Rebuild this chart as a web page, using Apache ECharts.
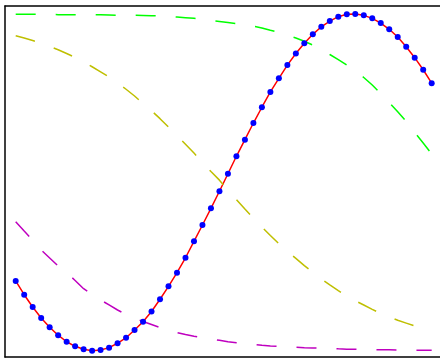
<!DOCTYPE html>
<html>
<head>
<meta charset="utf-8">
<script src="https://cdn.jsdelivr.net/npm/echarts@6/dist/echarts.min.js"></script>
<style>
  html, body { margin: 0; padding: 0; background: #fff; }
  #chart { width: 440px; height: 359px; }
</style>
</head>
<body>
<div id="chart"></div>
<script>
// sample index 0..49
const xIndex = Array.from({ length: 50 }, (_, i) => i)

// red line with blue markers
const redValues = [
  -0.589, -0.671, -0.744, -0.810, -0.865, -0.912, -0.951, -0.978, -0.996, -1.004,
  -1.000, -0.986, -0.960, -0.927, -0.881, -0.832, -0.771, -0.698, -0.621, -0.540,
  -0.451, -0.353, -0.256, -0.157, -0.055, 0.049, 0.153, 0.252, 0.351, 0.445,
  0.536, 0.617, 0.696, 0.765, 0.826, 0.879, 0.924, 0.958, 0.984, 0.998,
  1.000, 0.992, 0.974, 0.946, 0.909, 0.863, 0.805, 0.740, 0.668, 0.588
]

// green dashed
const greenValues = [
  0.998, 0.998, 0.998, 0.998, 0.997, 0.996, 0.996, 0.996, 0.995, 0.995,
  0.995, 0.994, 0.993, 0.993, 0.992, 0.991, 0.990, 0.988, 0.985, 0.982,
  0.978, 0.974, 0.968, 0.962, 0.956, 0.950, 0.943, 0.936, 0.927, 0.917,
  0.903, 0.890, 0.874, 0.857, 0.838, 0.815, 0.789, 0.759, 0.729, 0.696,
  0.661, 0.622, 0.577, 0.527, 0.473, 0.418, 0.360, 0.295, 0.232, 0.167
]

// olive dashed
const yellowValues = [
  0.871, 0.857, 0.842, 0.826, 0.807, 0.787, 0.765, 0.741, 0.714, 0.686,
  0.656, 0.625, 0.590, 0.552, 0.512, 0.467, 0.424, 0.377, 0.327, 0.276,
  0.225, 0.172, 0.118, 0.062, 0.011, -0.049, -0.105, -0.161, -0.216, -0.268,
  -0.318, -0.367, -0.413, -0.455, -0.498, -0.538, -0.577, -0.613, -0.647, -0.679,
  -0.707, -0.732, -0.758, -0.783, -0.802, -0.823, -0.840, -0.857, -0.872, -0.885
]

// magenta dashed
const magentaValues = [
  -0.236, -0.292, -0.346, -0.405, -0.452, -0.500, -0.540, -0.586, -0.635, -0.670,
  -0.702, -0.732, -0.762, -0.788, -0.810, -0.830, -0.848, -0.866, -0.883, -0.896,
  -0.908, -0.918, -0.927, -0.935, -0.942, -0.951, -0.957, -0.962, -0.966, -0.972,
  -0.976, -0.979, -0.981, -0.983, -0.986, -0.988, -0.989, -0.990, -0.993, -0.995,
  -0.996, -0.997, -0.998, -0.999, -0.999, -1.000, -1.000, -1.001, -1.001, -1.002
]

const pairs = (vals) => xIndex.map((x, i) => [x, vals[i]])

const dashedLine = (name, vals, color) => ({
  name,
  type: 'line',
  data: pairs(vals),
  showSymbol: false,
  symbol: 'none',
  lineStyle: { color, width: 1.5, type: [20, 20] },
  silent: true
})

const frameLine = { show: true, onZero: false, lineStyle: { color: '#000', width: 1.5 } }
const hidden = {
  axisTick: { show: false },
  axisLabel: { show: false },
  splitLine: { show: false }
}

const chart = echarts.init(document.getElementById('chart'))

chart.setOption({
  animation: false,
  backgroundColor: '#fff',
  grid: {
    left: 5,
    top: 6,
    width: 435,
    height: 351
  },
  xAxis: [
    { type: 'value', position: 'bottom', min: -1.26, max: 49.98, axisLine: frameLine, ...hidden },
    { type: 'value', position: 'top', min: -1.26, max: 49.98, axisLine: frameLine, ...hidden }
  ],
  yAxis: {
    type: 'value',
    min: -1.0417,
    max: 1.0476,
    axisLine: frameLine,
    ...hidden
  },
  series: [
    {
      name: 'red',
      type: 'line',
      data: pairs(redValues),
      symbol: 'circle',
      symbolSize: 6,
      showAllSymbol: true,
      lineStyle: { color: '#ff0000', width: 1.5 },
      itemStyle: { color: '#0000ff', borderWidth: 0 },
      z: 3
    },
    dashedLine('green', greenValues, '#00ff00'),
    dashedLine('olive', yellowValues, '#bfbf00'),
    dashedLine('magenta', magentaValues, '#bf00bf')
  ]
})
</script>
</body>
</html>
